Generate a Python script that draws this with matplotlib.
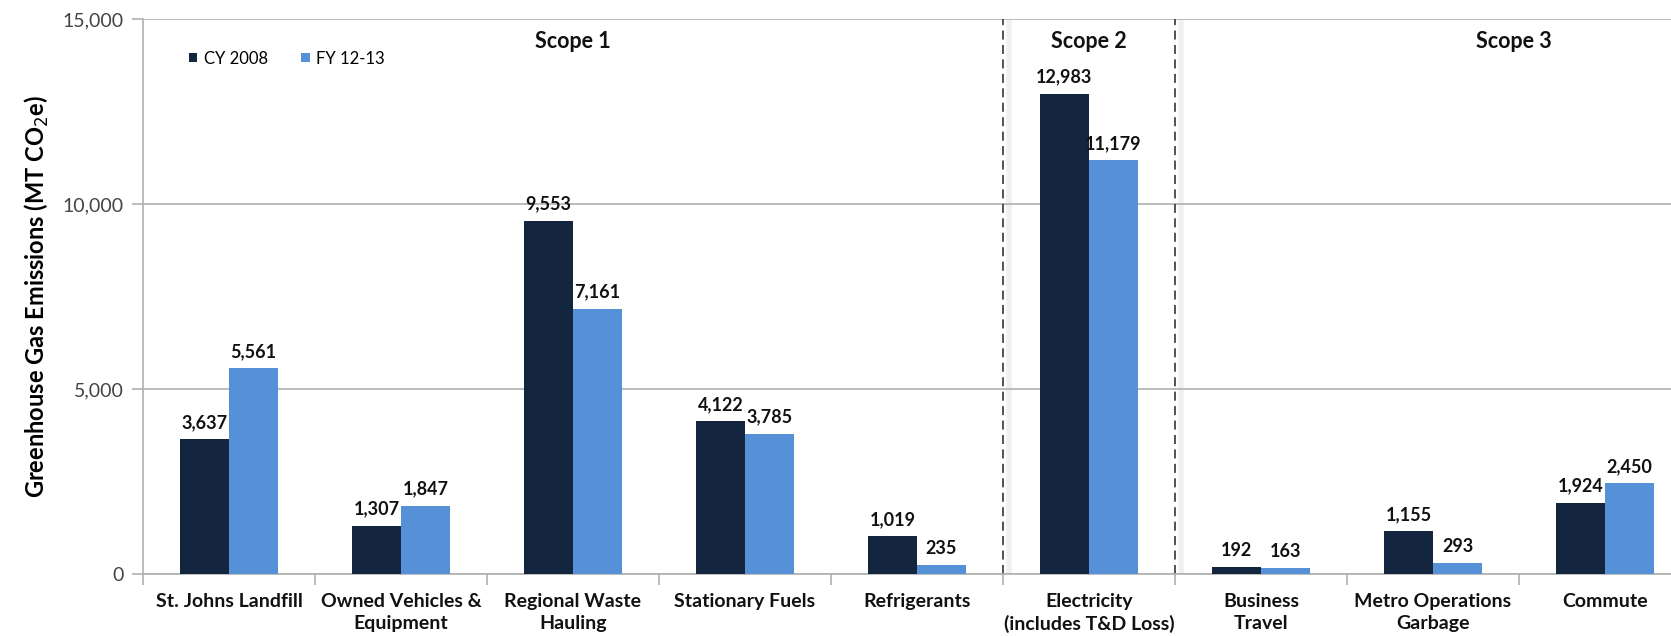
import numpy as np
import matplotlib.pyplot as plt

plt.rcParams['font.family'] = ['Lato', 'DejaVu Sans']

categories = ["St. Johns Landfill", "Owned Vehicles &\nEquipment", "Regional Waste\nHauling",
              "Stationary Fuels", "Refrigerants", "Electricity\n(includes T&D Loss)",
              "Business\nTravel", "Metro Operations\nGarbage", "Commute"]
cy2008 = [3637, 1307, 9553, 4122, 1019, 12983, 192, 1155, 1924]
fy1213 = [5561, 1847, 7161, 3785, 235, 11179, 163, 293, 2450]
scopes = ["Scope 1", "Scope 2", "Scope 3"]
scope_centers = [2, 5, 7.47]
scope_dividers = [4.5, 5.5]

dark = '#13253f'
light = '#5690d6'
gray = '#b0b0b0'

fig = plt.figure(figsize=(16.71, 6.36), dpi=100)
ax = fig.add_axes([143 / 1671, 62 / 636, 1548 / 1671, 555 / 636])

x = np.arange(len(categories))
w = 0.285
ax.bar(x - w / 2, cy2008, w, color=dark, label='CY 2008', zorder=3)
ax.bar(x + w / 2, fy1213, w, color=light, label='FY 12-13', zorder=3)

for xi, a, b in zip(x, cy2008, fy1213):
    ax.annotate(f"{a:,}", (xi - w / 2, a), xytext=(0, 6), textcoords='offset points',
                ha='center', va='bottom', fontsize=13, fontweight='bold', color='#111111')
    ax.annotate(f"{b:,}", (xi + w / 2, b), xytext=(0, 6), textcoords='offset points',
                ha='center', va='bottom', fontsize=13, fontweight='bold', color='#111111')

for d in scope_dividers:
    ax.axvline(d + 0.035, color='#f0f0f0', lw=4, zorder=1)
    ax.axvline(d, color='#444444', lw=1.3, ls=(0, (5, 3)), zorder=2)

for s, c in zip(scopes, scope_centers):
    ax.text(c, 14400, s, ha='center', va='center', fontsize=15.5, fontweight='bold', color='#111111')

ax.set_xlim(-0.5, len(categories) - 0.5)
ax.set_ylim(0, 15000)
ax.set_yticks([0, 5000, 10000, 15000])
ax.set_yticklabels(["0", "5,000", "10,000", "15,000"], fontsize=14, color='#444444')
ax.set_xticks(x)
ax.set_xticklabels(categories, fontsize=14, fontweight='bold', color='#111111', linespacing=1.3)
ax.set_xticks(np.arange(len(categories) + 1) - 0.5, minor=True)
ax.tick_params(axis='x', which='major', length=0, pad=14)
ax.tick_params(axis='x', which='minor', length=8, color=gray, width=1.2)
ax.tick_params(axis='y', length=8, color=gray, width=1.2, pad=6)

ax.yaxis.grid(True, color=gray, lw=1.2, zorder=0)
for side in ['top', 'right']:
    ax.spines[side].set_visible(False)
for side in ['left', 'bottom']:
    ax.spines[side].set_color(gray)
    ax.spines[side].set_linewidth(1.2)

ax.set_ylabel("Greenhouse Gas Emissions (MT CO$_2$e)", fontsize=17, fontweight='bold', labelpad=8)

ax.legend(loc='upper left', bbox_to_anchor=(0.02, 0.97), ncol=2, frameon=False, fontsize=12,
          handlelength=0.5, handleheight=0.5, columnspacing=2.0, handletextpad=0.4)

fig.savefig("out.png", dpi=100)
